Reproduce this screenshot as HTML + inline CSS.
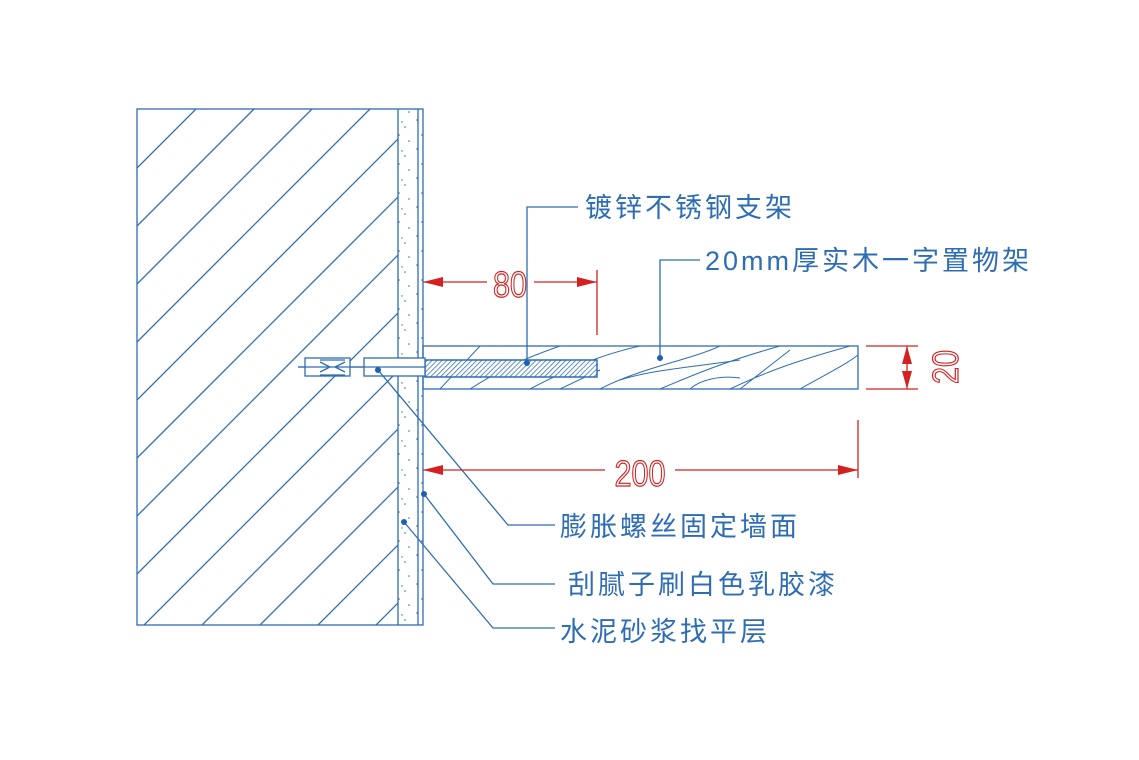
<!DOCTYPE html>
<html><head><meta charset="utf-8"><style>
html,body{margin:0;padding:0;background:#fff;overflow:hidden;width:1139px;height:760px}
svg{display:block}
.lbl{font-family:"Liberation Sans","Noto Sans CJK SC",sans-serif;font-size:27px;fill:#2e6db4;letter-spacing:3px}
.dim{font-family:"Liberation Sans",sans-serif;font-size:36px;fill:none;stroke:#d42020;stroke-width:1.2}
</style></head><body>
<svg width="1139" height="760" viewBox="0 0 1139 760" xmlns="http://www.w3.org/2000/svg">
<defs>
<clipPath id="w"><rect x="137" y="109" width="261" height="516"/></clipPath>
<clipPath id="s"><rect x="423" y="346" width="435" height="43"/></clipPath>
<pattern id="h" width="3.5" height="3.5" patternUnits="userSpaceOnUse" patternTransform="rotate(45)"><line x1="0" y1="0" x2="0" y2="3.5" stroke="#2e6db4" stroke-width="1.5"/></pattern>
<pattern id="dots" width="23" height="29" patternUnits="userSpaceOnUse">
<circle cx="3" cy="4" r="0.8" fill="#2e6db4"/><circle cx="14" cy="11" r="0.8" fill="#2e6db4"/><circle cx="8" cy="19" r="0.8" fill="#2e6db4"/><circle cx="18" cy="25" r="0.8" fill="#2e6db4"/><circle cx="11" cy="6" r="0.7" fill="#2e6db4"/>
</pattern>
</defs>
<g stroke="#2e6db4" stroke-width="1.3" fill="none">
<rect x="137" y="109" width="286" height="516"/>
<line x1="398" y1="109" x2="398" y2="625"/>
<line x1="418" y1="109" x2="418" y2="625"/>
<g clip-path="url(#w)">
<path d="M137 168L196 109M137 226L254 109M137 284L312 109M137 342L370 109M137 400L428 109M137 458L486 109M137 516L544 109M137 574L602 109M137 632L660 109M137 690L718 109M137 748L776 109M137 806L834 109M137 864L892 109M137 922L950 109"/>
</g>
<rect x="398" y="109" width="20" height="516" fill="url(#dots)" stroke="none"/>
<rect x="418" y="109" width="5" height="516" fill="url(#dots)" stroke="none"/>
<rect x="423" y="346" width="435" height="43"/>
<g clip-path="url(#s)" stroke-width="1">
<path d="M440 389L480 346M470 389C500 370 520 360 560 346M530 389C570 368 600 355 640 346M600 389C640 368 690 360 720 346M660 389C700 372 730 360 780 346M730 389C770 370 800 360 850 346M800 389C830 372 845 365 858 355M690 389C700 380 720 375 740 378M620 380C650 370 700 366 740 360M740 389L790 350M560 389L600 370"/>
</g>
<rect x="425" y="360" width="172" height="17" fill="#fff"/>
<rect x="425" y="360" width="172" height="17" fill="url(#h)"/>
<rect x="364" y="358" width="61" height="18" fill="#fff"/>
<line x1="298" y1="367" x2="425" y2="367"/>
<rect x="305" y="358" width="45" height="18" fill="#fff"/>
<path d="M320 360h25M320 375h25M320 362l10 5-10 5M345 362l-10 5 10 5"/>
<line x1="298" y1="367" x2="364" y2="367"/>
<path d="M527 363V207H578M660 358V260H700M378 370L508 525H555M424 494L493 584H555M404 522L493 628H555"/>
</g>
<g fill="#1d5fb0"><circle cx="527" cy="363" r="3"/><circle cx="660" cy="358" r="3"/><circle cx="378" cy="370" r="3"/><circle cx="424" cy="494" r="3"/><circle cx="404" cy="522" r="3"/></g>
<text class="lbl" x="585" y="217">镀锌不锈钢支架</text>
<text class="lbl" x="705" y="270">20mm厚实木一字置物架</text>
<text class="lbl" x="560" y="536">膨胀螺丝固定墙面</text>
<text class="lbl" x="568" y="594">刮腻子刷白色乳胶漆</text>
<text class="lbl" x="560" y="641">水泥砂浆找平层</text>
<g stroke="#d42020" stroke-width="1.3" fill="none">
<path d="M423 282H487M534 282H597M597 270V335"/>
<path d="M423 470H605M675 470H858M858 420V478"/>
<path d="M866 346H918M866 389H918M907 346V389"/>
</g>
<g fill="#d42020">
<path d="M423 282l20-5v10zM597 282l-20-5v10zM423 470l20-5v10zM858 470l-20-5v10zM907 346l-5 18h10zM907 389l-5-18h10z"/>
</g>
<text class="dim" x="510" y="297" text-anchor="middle" transform="translate(510 0) scale(0.85 1) translate(-510 0)">80</text>
<text class="dim" x="640" y="486" text-anchor="middle" transform="translate(640 0) scale(0.85 1) translate(-640 0)">200</text>
<text class="dim" x="0" y="0" text-anchor="middle" transform="translate(958 367) rotate(-90) scale(0.85 1)">20</text>
</svg>
</body></html>
